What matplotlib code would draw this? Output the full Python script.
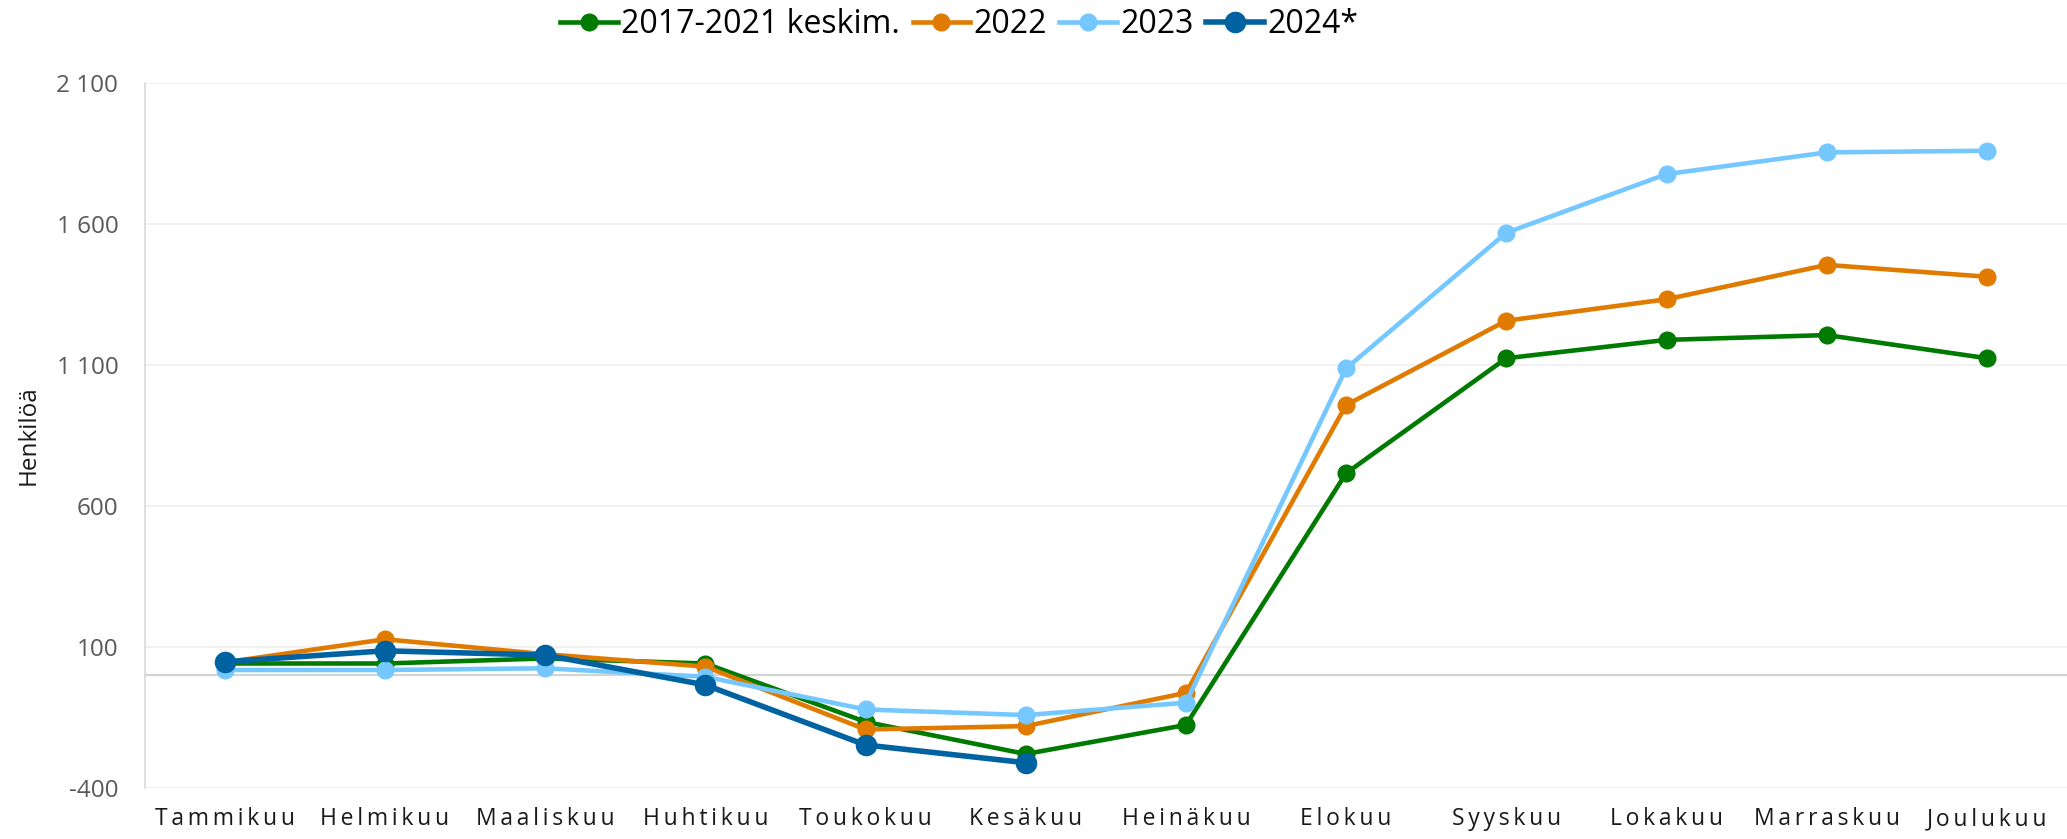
import matplotlib
matplotlib.use("Agg")
import matplotlib.pyplot as plt
from matplotlib.ticker import FuncFormatter

plt.rcParams["font.family"] = ["Open Sans", "DejaVu Sans"]

months = ["Tammikuu", "Helmikuu", "Maaliskuu", "Huhtikuu", "Toukokuu", "Kesäkuu",
          "Heinäkuu", "Elokuu", "Syyskuu", "Lokakuu", "Marraskuu", "Joulukuu"]

avg_2017_2021 = [41, 41, 59, 41, -166, -280, -177, 716, 1124, 1189, 1206, 1124]
y2022 = [45, 127, 74, 30, -193, -181, -63, 958, 1257, 1333, 1455, 1413]
y2023 = [18, 18, 24, -6, -122, -142, -98, 1088, 1569, 1777, 1854, 1860]
y2024 = [47, 86, 71, -35, -248, -311]

# nimi, arvot, väri, viivan paksuus, merkin koko
series = [
    ("2017-2021 keskim.", avg_2017_2021, "#007A00", 3.3, 12),
    ("2022", y2022, "#E07B00", 3.3, 12),
    ("2023", y2023, "#75C8FF", 3.3, 12),
    ("2024*", y2024, "#0062A0", 4.0, 14.5),
]

fig = plt.figure(figsize=(20.67, 8.39), dpi=100)
ax = fig.add_axes([0.070, 0.061, 0.930, 0.840])

x = list(range(len(months)))
for label, vals, color, lw, ms in series:
    ax.plot(x[:len(vals)], vals, color=color, linewidth=lw, marker="o",
            markersize=ms, label=label, solid_joinstyle="round", zorder=3)

ax.set_xlim(-0.5, len(months) - 0.5)
ax.set_ylim(-400, 2100)
ax.set_yticks([-400, 100, 600, 1100, 1600, 2100])
ax.yaxis.set_major_formatter(FuncFormatter(lambda v, p: f"{int(v):,}".replace(",", " ")))
ax.grid(axis="y", color="#efefef", linewidth=1.2)
ax.axhline(0, color="#d4d4d4", linewidth=1.6, zorder=1)

# harvennettu kirjainväli
ax.set_xticks(x)
ax.set_xticklabels(["\u2009".join(m) for m in months], fontsize=16.5, color="#1a1a1a")
ax.tick_params(axis="x", length=0, pad=14)
ax.tick_params(axis="y", length=0, pad=19, labelsize=17.5, labelcolor="#595959")

for s in ["top", "right", "bottom"]:
    ax.spines[s].set_visible(False)
ax.spines["left"].set_color("#d9d9d9")
ax.spines["left"].set_linewidth(1.2)

ax.set_ylabel("Henkilöä", fontsize=17.5, color="#1a1a1a")
ax.yaxis.set_label_coords(-0.054, 0.5)

fig.legend(loc="center", bbox_to_anchor=(0.464, 0.971), ncol=4, frameon=False,
           fontsize=23, handlelength=1.8, handletextpad=0.1, columnspacing=0.4,
           borderaxespad=0)

fig.savefig("out.png", dpi=100)
